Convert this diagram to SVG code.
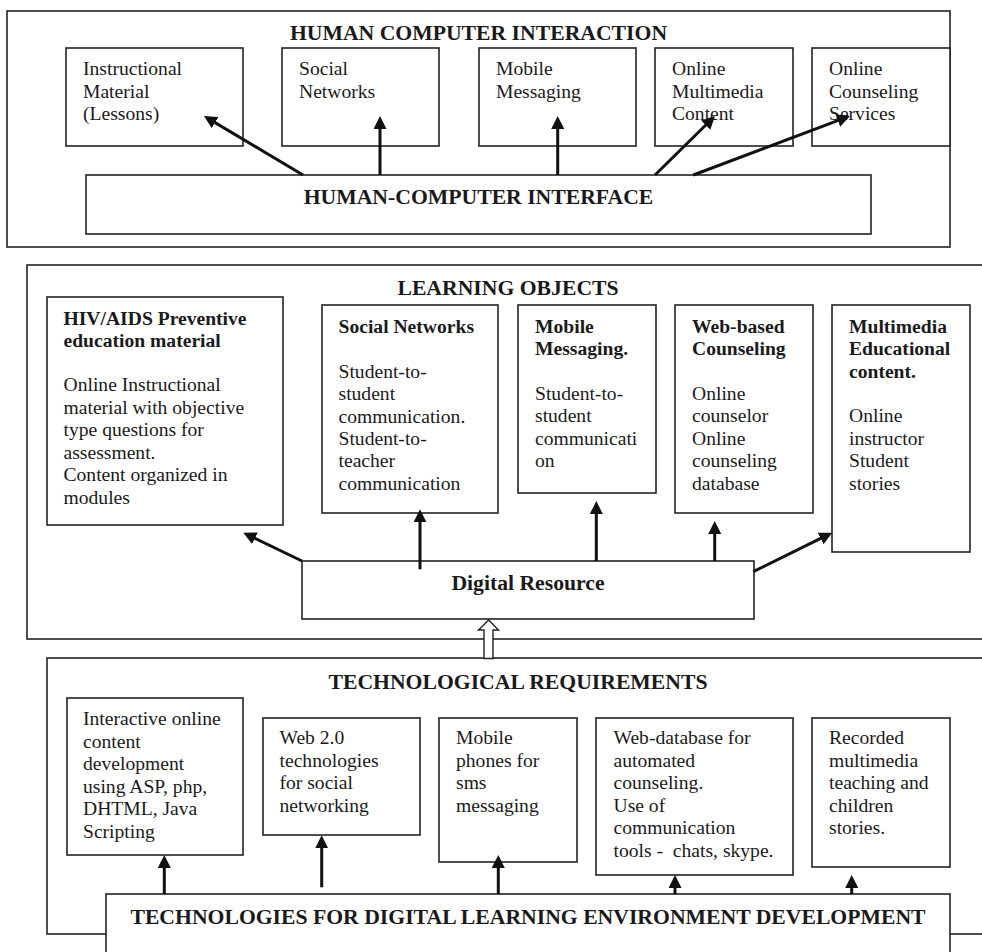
<svg xmlns="http://www.w3.org/2000/svg" width="982" height="952" viewBox="0 0 982 952">
<defs>
<style>
.box{fill:#fff;stroke:#222;stroke-width:1.6}
.frame{fill:none;stroke:#222;stroke-width:1.6}
.t{font-family:"Liberation Serif","Times New Roman",serif;font-size:19.6px;fill:#1a1a1a}
.b{font-weight:bold}
.h{font-family:"Liberation Serif","Times New Roman",serif;font-size:21.7px;font-weight:bold;fill:#1a1a1a;text-anchor:middle}
.arr{stroke:#111;stroke-width:3;fill:none;marker-end:url(#ah)}
</style>
<marker id="ah" markerUnits="userSpaceOnUse" markerWidth="13" markerHeight="13" viewBox="0 0 13 13" refX="4" refY="6.5" orient="auto">
<path d="M0,0 L13,6.5 L0,13 z" fill="#111"/>
</marker>
</defs>
<rect width="982" height="952" fill="#fff"/>

<!-- TOP SECTION -->
<g id="hci-section">
<rect class="frame" x="7" y="11" width="943" height="236"/>
<text class="h" x="478.5" y="40">HUMAN COMPUTER INTERACTION</text>
</g>
<g id="hci-instructional">
<rect class="box" x="66" y="48" width="177" height="98"/>
<text class="t" x="83" y="75">Instructional</text>
<text class="t" x="83" y="97.5">Material</text>
<text class="t" x="83" y="120">(Lessons)</text>
</g>
<g id="hci-social">
<rect class="box" x="282" y="48" width="157" height="98"/>
<text class="t" x="299" y="75">Social</text>
<text class="t" x="299" y="97.5">Networks</text>
</g>
<g id="hci-mobile">
<rect class="box" x="479" y="48" width="157" height="98"/>
<text class="t" x="496" y="75">Mobile</text>
<text class="t" x="496" y="97.5">Messaging</text>
</g>
<g id="hci-multimedia">
<rect class="box" x="655" y="48" width="138" height="98"/>
<text class="t" x="672" y="75">Online</text>
<text class="t" x="672" y="97.5">Multimedia</text>
<text class="t" x="672" y="120">Content</text>
</g>
<g id="hci-counseling">
<rect class="box" x="812" y="48" width="138" height="98"/>
<text class="t" x="829" y="75">Online</text>
<text class="t" x="829" y="97.5">Counseling</text>
<text class="t" x="829" y="120">Services</text>
</g>
<g id="hci-interface">
<rect class="box" x="86" y="175" width="785" height="59"/>
<text class="h" x="478.5" y="204">HUMAN-COMPUTER INTERFACE</text>
</g>

<!-- MIDDLE SECTION -->
<g id="lo-section">
<rect class="frame" x="27" y="265" width="970" height="374"/>
<text class="h" x="508" y="295">LEARNING OBJECTS</text>
</g>
<g id="lo-hiv">
<rect class="box" x="47" y="297" width="236" height="228"/>
<text class="t b" x="63.5" y="324.5">HIV/AIDS Preventive</text>
<text class="t b" x="63.5" y="347">education material</text>
<text class="t" x="63.5" y="391">Online Instructional</text>
<text class="t" x="63.5" y="413.5">material with objective</text>
<text class="t" x="63.5" y="436">type questions for</text>
<text class="t" x="63.5" y="458.5">assessment.</text>
<text class="t" x="63.5" y="481">Content organized in</text>
<text class="t" x="63.5" y="503.5">modules</text>
</g>
<g id="lo-social">
<rect class="box" x="322" y="305" width="176" height="208"/>
<text class="t b" x="338.5" y="332.5">Social Networks</text>
<text class="t" x="338.5" y="377.5">Student-to-</text>
<text class="t" x="338.5" y="400">student</text>
<text class="t" x="338.5" y="422.5">communication.</text>
<text class="t" x="338.5" y="445">Student-to-</text>
<text class="t" x="338.5" y="467">teacher</text>
<text class="t" x="338.5" y="489.5">communication</text>
</g>
<g id="lo-mobile">
<rect class="box" x="518" y="305" width="138" height="188"/>
<text class="t b" x="535" y="332.5">Mobile</text>
<text class="t b" x="535" y="355">Messaging.</text>
<text class="t" x="535" y="399.5">Student-to-</text>
<text class="t" x="535" y="422">student</text>
<text class="t" x="535" y="444.5">communicati</text>
<text class="t" x="535" y="467">on</text>
</g>
<g id="lo-web">
<rect class="box" x="675" y="305" width="138" height="208"/>
<text class="t b" x="692" y="332.5">Web-based</text>
<text class="t b" x="692" y="355">Counseling</text>
<text class="t" x="692" y="399.5">Online</text>
<text class="t" x="692" y="422">counselor</text>
<text class="t" x="692" y="444.5">Online</text>
<text class="t" x="692" y="467">counseling</text>
<text class="t" x="692" y="489.5">database</text>
</g>
<g id="lo-multimedia">
<rect class="box" x="832" y="305" width="138" height="247"/>
<text class="t b" x="849" y="332.5">Multimedia</text>
<text class="t b" x="849" y="355">Educational</text>
<text class="t b" x="849" y="377.5">content.</text>
<text class="t" x="849" y="422">Online</text>
<text class="t" x="849" y="444.5">instructor</text>
<text class="t" x="849" y="467">Student</text>
<text class="t" x="849" y="489.5">stories</text>
</g>
<g id="lo-digital">
<rect class="box" x="302" y="561" width="452" height="58"/>
<text class="h" x="528" y="589.5">Digital Resource</text>
</g>

<!-- BOTTOM SECTION -->
<g id="tr-section">
<rect class="frame" x="47" y="658" width="960" height="276"/>
<text class="h" x="518" y="689">TECHNOLOGICAL REQUIREMENTS</text>
</g>
<g id="tr-interactive">
<rect class="box" x="67" y="698" width="176" height="157"/>
<text class="t" x="83" y="725">Interactive online</text>
<text class="t" x="83" y="747.5">content</text>
<text class="t" x="83" y="770">development</text>
<text class="t" x="83" y="792.5">using ASP, php,</text>
<text class="t" x="83" y="815">DHTML, Java</text>
<text class="t" x="83" y="837.5">Scripting</text>
</g>
<g id="tr-web20">
<rect class="box" x="263" y="718" width="157" height="117"/>
<text class="t" x="279.5" y="744">Web 2.0</text>
<text class="t" x="279.5" y="766.5">technologies</text>
<text class="t" x="279.5" y="789">for social</text>
<text class="t" x="279.5" y="811.5">networking</text>
</g>
<g id="tr-mobile">
<rect class="box" x="439" y="718" width="138" height="144"/>
<text class="t" x="456" y="744">Mobile</text>
<text class="t" x="456" y="766.5">phones for</text>
<text class="t" x="456" y="789">sms</text>
<text class="t" x="456" y="811.5">messaging</text>
</g>
<g id="tr-webdb">
<rect class="box" x="596" y="718" width="197" height="157"/>
<text class="t" x="613.5" y="744">Web-database for</text>
<text class="t" x="613.5" y="766.5">automated</text>
<text class="t" x="613.5" y="789">counseling.</text>
<text class="t" x="613.5" y="811.5">Use of</text>
<text class="t" x="613.5" y="834">communication</text>
<text class="t" x="613.5" y="856.5" xml:space="preserve">tools -  chats, skype.</text>
</g>
<g id="tr-recorded">
<rect class="box" x="812" y="718" width="138" height="149"/>
<text class="t" x="829" y="744">Recorded</text>
<text class="t" x="829" y="766.5">multimedia</text>
<text class="t" x="829" y="789">teaching and</text>
<text class="t" x="829" y="811.5">children</text>
<text class="t" x="829" y="834">stories.</text>
</g>
<g id="tr-technologies">
<rect class="box" x="106" y="894" width="844" height="70"/>
<text class="h" x="528" y="924">TECHNOLOGIES FOR DIGITAL LEARNING ENVIRONMENT DEVELOPMENT</text>
</g>

<!-- CONNECTORS -->
<g id="connectors">
<line class="arr" x1="303" y1="175" x2="211.7" y2="120.6"/>
<line class="arr" x1="380" y1="175" x2="380" y2="125"/>
<line class="arr" x1="557.7" y1="175" x2="557.7" y2="125"/>
<line class="arr" x1="655" y1="175" x2="708.6" y2="122.3"/>
<line class="arr" x1="693.3" y1="175" x2="841.6" y2="119.2"/>

<line class="arr" x1="302" y1="561" x2="251.4" y2="536.6"/>
<line class="arr" x1="420" y1="569.3" x2="420" y2="518.3"/>
<line class="arr" x1="596.3" y1="561" x2="596.3" y2="510"/>
<line class="arr" x1="714.7" y1="561" x2="714.7" y2="530"/>
<line class="arr" x1="753.3" y1="571.7" x2="824.2" y2="536.7"/>

<polygon points="484,658.5 484,630 478.5,630 488.7,620 498.5,630 493,630 493,658.5" fill="#fff" stroke="#222" stroke-width="1.4"/>

<line class="arr" x1="164.3" y1="894" x2="164.3" y2="864"/>
<line class="arr" x1="321.7" y1="887.3" x2="321.7" y2="844.3"/>
<line class="arr" x1="498.3" y1="894" x2="498.3" y2="864"/>
<line class="arr" x1="675" y1="894" x2="675" y2="884"/>
<line class="arr" x1="851.7" y1="894" x2="851.7" y2="884"/>
</g>
</svg>
